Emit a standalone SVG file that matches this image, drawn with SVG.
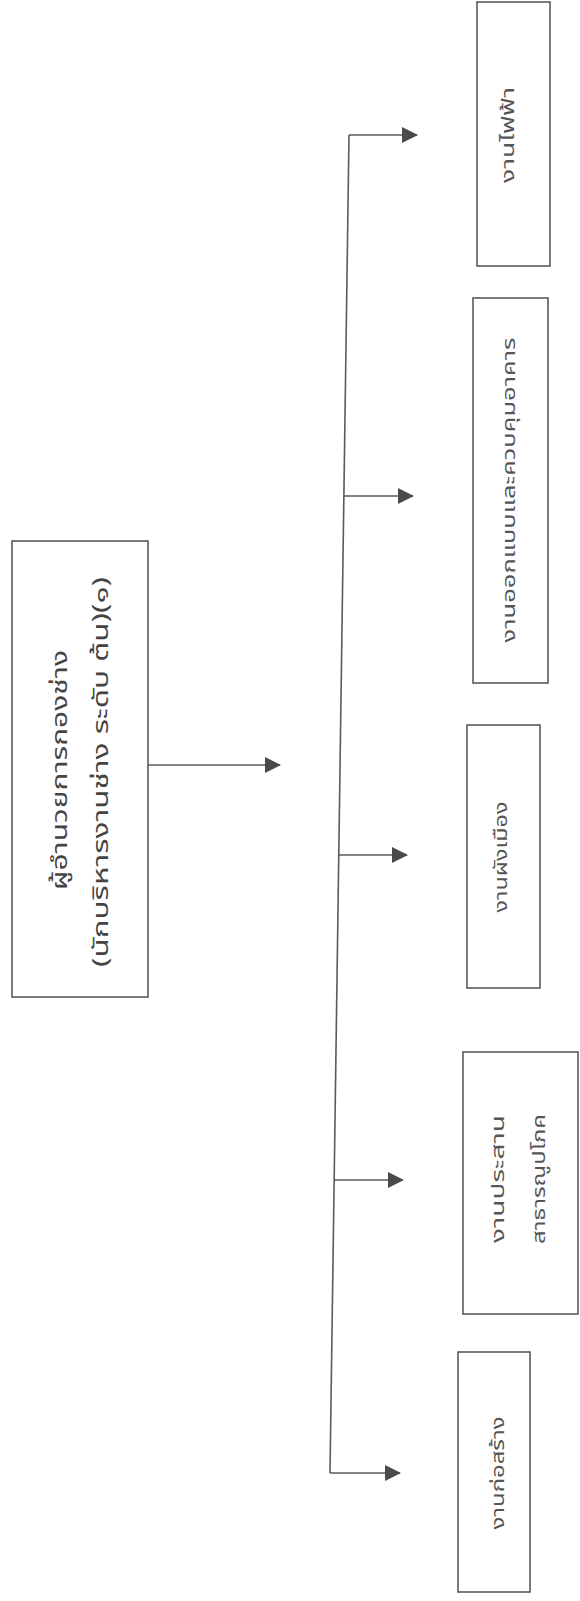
<svg xmlns="http://www.w3.org/2000/svg" width="580" height="1601" viewBox="0 0 580 1601">
<style>
.box{fill:#fff;stroke:#5a5a5a;stroke-width:1.6}
.ln{fill:none;stroke:#5a5a5a;stroke-width:1.6}
.t{font-family:"Noto Sans Thai","Noto Sans","DejaVu Sans",sans-serif;fill:#555;text-anchor:middle;dominant-baseline:central}
.c{font-size:17px}
.m{font-size:21px;fill:#444}
</style>
<defs>
<marker id="ah" markerUnits="userSpaceOnUse" markerWidth="16" markerHeight="16" viewBox="0 0 16 16" refX="15" refY="8" orient="auto">
<path d="M0,0 L16,8 L0,16 Z" fill="#4a4a4a"/>
</marker>
</defs>
<rect width="580" height="1601" fill="#fff"/>
<g id="connectors">
<line class="ln" x1="349" y1="135" x2="330" y2="1473"/>
<line class="ln" x1="148" y1="765" x2="280" y2="765" marker-end="url(#ah)"/>
<line class="ln" x1="349" y1="135" x2="417" y2="135" marker-end="url(#ah)"/>
<line class="ln" x1="344" y1="496" x2="413" y2="496" marker-end="url(#ah)"/>
<line class="ln" x1="339" y1="855" x2="407" y2="855" marker-end="url(#ah)"/>
<line class="ln" x1="334" y1="1180" x2="403" y2="1180" marker-end="url(#ah)"/>
<line class="ln" x1="330" y1="1473" x2="400" y2="1473" marker-end="url(#ah)"/>
</g>
<g id="director">
<rect class="box" x="12" y="541" width="136" height="456"/>
<text class="t m" transform="translate(60,770) rotate(-90)" textLength="240" lengthAdjust="spacingAndGlyphs">ผู้อำนวยการกองช่าง</text>
<text class="t m" transform="translate(101,772) rotate(-90)" textLength="390" lengthAdjust="spacingAndGlyphs">(นักบริหารงานช่าง ระดับ ต้น)(๑)</text>
</g>
<g id="electric">
<rect class="box" x="477" y="2" width="73" height="264"/>
<text class="t c" transform="translate(509,135) rotate(-90)" textLength="96" lengthAdjust="spacingAndGlyphs">งานไฟฟ้า</text>
</g>
<g id="design">
<rect class="box" x="473" y="298" width="75" height="385"/>
<text class="t c" transform="translate(510,490) rotate(-90)" textLength="305" lengthAdjust="spacingAndGlyphs">งานออกแบบและควบคุมอาคาร</text>
</g>
<g id="planning">
<rect class="box" x="467" y="725" width="73" height="263"/>
<text class="t c" transform="translate(502,857) rotate(-90)" textLength="111" lengthAdjust="spacingAndGlyphs">งานผังเมือง</text>
</g>
<g id="utilities">
<rect class="box" x="463" y="1052" width="115" height="262"/>
<text class="t c" transform="translate(499,1179) rotate(-90)" textLength="128" lengthAdjust="spacingAndGlyphs">งานประสาน</text>
<text class="t c" transform="translate(540,1179) rotate(-90)" textLength="130" lengthAdjust="spacingAndGlyphs">สาธารณูปโภค</text>
</g>
<g id="construction">
<rect class="box" x="458" y="1352" width="72" height="240"/>
<text class="t c" transform="translate(499,1473) rotate(-90)" textLength="113" lengthAdjust="spacingAndGlyphs">งานก่อสร้าง</text>
</g>
</svg>
